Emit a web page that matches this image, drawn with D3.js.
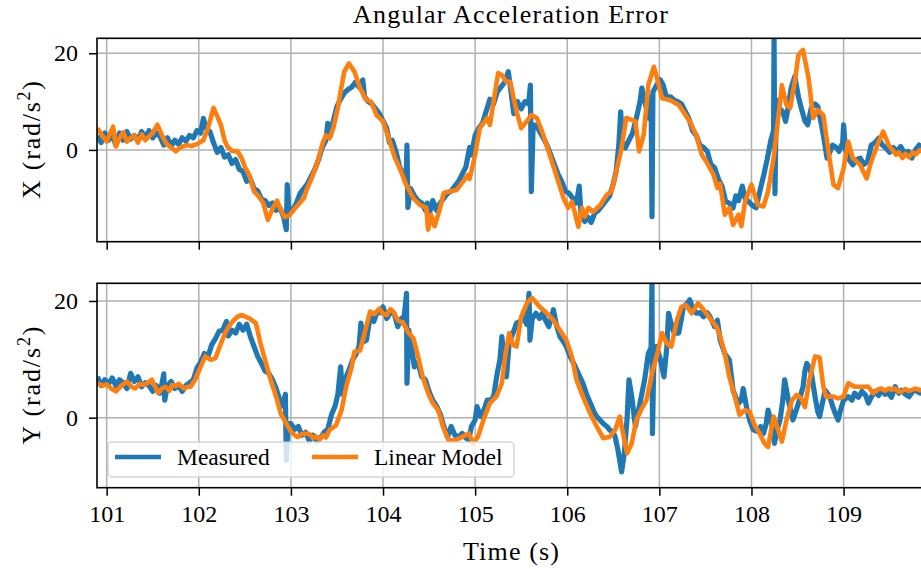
<!DOCTYPE html>
<html>
<head>
<meta charset="utf-8">
<script src="https://cdn.jsdelivr.net/npm/d3@7/dist/d3.min.js"></script>
<style>
  body { margin: 0; background: #fff; }
  text { font-family: "Liberation Serif", "Times New Roman", serif; fill: #000; }
</style>
</head>
<body>
<svg></svg>
<script>
var svg = d3.select("svg");

var svgWidth = 921,
    svgHeight = 569;

svg.attr("width", svgWidth).attr("height", svgHeight);

// ---- data ----
var xTickValues = [101, 102, 103, 104, 105, 106, 107, 108, 109];
var yTickValues = [0, 20];

// X axis (top panel), measured
var xMeasTime = [100.90,100.94,100.98,101.02,101.06,101.10,101.14,101.18,101.22,101.26,101.30,101.34,101.38,101.42,101.46,101.50,101.54,101.58,101.62,101.66,101.70,101.74,101.78,101.82,101.86,101.90,101.94,101.98,102.02,102.05,102.08,102.12,102.16,102.20,102.24,102.28,102.32,102.36,102.40,102.44,102.48,102.52,102.56,102.60,102.64,102.68,102.72,102.76,102.80,102.84,102.88,102.92,102.95,102.96,102.98,103.02,103.06,103.10,103.14,103.18,103.22,103.26,103.30,103.34,103.38,103.40,103.43,103.46,103.50,103.54,103.58,103.62,103.66,103.70,103.74,103.78,103.80,103.84,103.88,103.92,103.96,104.00,104.04,104.07,104.10,104.14,104.18,104.22,104.25,104.26,104.27,104.30,104.34,104.38,104.42,104.46,104.48,104.50,104.54,104.58,104.62,104.66,104.70,104.74,104.78,104.82,104.86,104.90,104.94,104.96,105.00,105.04,105.08,105.12,105.16,105.20,105.24,105.28,105.32,105.36,105.38,105.42,105.46,105.50,105.54,105.58,105.60,105.61,105.63,105.67,105.70,105.74,105.78,105.82,105.86,105.90,105.94,105.98,106.02,106.06,106.10,106.13,106.15,106.19,106.23,106.26,106.30,106.34,106.38,106.42,106.46,106.50,106.53,106.56,106.58,106.60,106.63,106.67,106.71,106.75,106.79,106.81,106.84,106.88,106.91,106.92,106.93,106.97,107.01,107.04,107.08,107.12,107.16,107.20,107.24,107.28,107.32,107.36,107.40,107.44,107.48,107.52,107.56,107.60,107.64,107.68,107.72,107.76,107.80,107.83,107.86,107.90,107.93,107.97,108.01,108.05,108.09,108.13,108.17,108.21,108.24,108.245,108.255,108.27,108.31,108.34,108.37,108.40,108.43,108.47,108.51,108.54,108.58,108.61,108.65,108.69,108.72,108.76,108.79,108.82,108.85,108.88,108.92,108.95,108.99,109.00,109.02,109.06,109.10,109.14,109.18,109.22,109.26,109.30,109.34,109.38,109.42,109.46,109.50,109.54,109.58,109.62,109.66,109.70,109.74,109.78,109.82,109.86];
var xMeasured = [3.0,1.5,3.5,2.0,3.2,1.0,3.5,2.0,3.8,2.2,3.0,2.0,3.8,2.5,4.0,2.5,3.5,2.8,1.0,2.5,0.8,2.0,1.2,2.5,1.8,3.0,2.5,4.0,3.5,6.5,4.5,3.8,1.5,-0.5,0.5,-1.5,-1.0,-2.8,-2.0,-4.0,-4.5,-6.5,-6.0,-8.0,-8.5,-10.2,-10.5,-11.5,-11.0,-12.5,-12.0,-13.8,-16.5,-7.2,-13.0,-12.5,-11.0,-9.0,-8.0,-7.0,-5.5,-4.0,-2.0,0.5,2.0,5.5,3.0,6.0,9.0,10.5,11.8,12.5,13.0,14.0,13.0,14.5,11.0,10.0,9.5,8.5,7.5,6.0,4.5,1.5,2.0,-0.3,-3.5,-5.0,-6.5,1.0,-11.9,-8.0,-9.5,-10.5,-11.0,-12.5,-11.0,-13.5,-10.5,-12.5,-11.0,-10.0,-9.0,-8.5,-7.5,-6.5,-5.0,-3.5,0.5,-1.0,3.0,4.5,5.5,8.0,10.5,9.5,12.0,13.0,14.0,16.2,13.4,7.5,10.0,8.5,10.0,9.5,13.4,-8.6,5.2,5.0,3.8,2.5,1.0,-1.0,-3.0,-5.0,-6.5,-8.5,-9.0,-10.0,-11.0,-7.5,-13.4,-14.8,-14.0,-15.0,-13.0,-12.5,-11.5,-10.5,-9.5,-7.0,-4.5,1.0,7.9,1.5,0.4,2.0,3.5,6.6,10.0,12.8,10.3,6.6,11.0,-13.8,12.0,13.4,14.5,13.5,10.7,11.0,10.3,10.0,9.5,8.0,6.5,4.0,3.0,1.0,0.5,-0.3,-3.0,-3.7,-6.0,-7.5,-10.7,-11.0,-12.0,-9.5,-10.5,-7.5,-10.0,-10.7,-11.5,-12.0,-8.6,-5.5,-2.0,2.0,4.0,24.0,-9.0,10.3,8.5,7.9,5.9,9.0,12.8,15.2,11.0,8.7,6.0,5.2,8.7,9.5,9.0,5.2,2.0,-1.7,-0.5,1.0,0.5,-0.3,1.5,5.2,0.0,-2.0,-3.1,-2.0,-1.7,-3.0,-2.4,1.0,1.5,2.4,1.0,0.4,-0.5,0.5,-0.3,0.7,-0.7,-0.3,-1.7,0.0,1.0,0.5];

// X axis (top panel), linear model
var xModelTime = [100.90,100.95,101.00,101.04,101.07,101.10,101.14,101.18,101.22,101.26,101.30,101.34,101.38,101.42,101.46,101.50,101.55,101.60,101.65,101.70,101.75,101.80,101.87,101.92,101.98,102.05,102.10,102.16,102.20,102.24,102.28,102.31,102.36,102.42,102.46,102.50,102.55,102.60,102.65,102.70,102.75,102.80,102.85,102.88,102.93,102.98,103.04,103.10,103.14,103.17,103.24,103.29,103.35,103.38,103.42,103.46,103.51,103.54,103.58,103.63,103.69,103.75,103.82,103.87,103.93,104.00,104.05,104.13,104.18,104.25,104.33,104.40,104.47,104.49,104.52,104.56,104.62,104.66,104.72,104.80,104.87,104.92,104.94,105.00,105.05,105.13,105.16,105.20,105.25,105.29,105.34,105.38,105.45,105.50,105.56,105.61,105.67,105.74,105.81,105.88,105.96,106.01,106.05,106.08,106.12,106.16,106.19,106.23,106.28,106.36,106.43,106.48,106.54,106.59,106.64,106.70,106.74,106.78,106.83,106.88,106.94,106.97,107.03,107.12,107.21,107.26,107.33,107.40,107.46,107.51,107.59,107.63,107.66,107.71,107.76,107.80,107.86,107.89,107.93,108.00,108.07,108.13,108.18,108.24,108.29,108.33,108.38,108.42,108.47,108.51,108.56,108.62,108.67,108.72,108.78,108.83,108.89,108.94,109.00,109.05,109.10,109.18,109.25,109.30,109.38,109.43,109.49,109.53,109.57,109.60,109.64,109.67,109.71,109.75,109.78,109.83,109.86];
var xModel = [4.5,3.0,1.7,3.5,4.8,0.7,2.5,3.6,1.7,2.5,3.0,1.5,3.2,2.0,2.8,3.5,5.2,3.0,1.2,0.5,-0.3,0.5,1.0,0.8,1.2,2.0,4.5,8.7,7.0,5.2,2.0,0.7,-0.2,-0.3,-1.5,-3.5,-5.2,-8.6,-9.6,-11.0,-14.5,-12.2,-10.5,-12.0,-13.9,-13.6,-12.2,-10.9,-10.0,-8.3,-5.2,-2.4,1.7,3.0,2.4,4.5,8.7,12.1,16.2,17.9,16.2,12.8,10.3,10.0,7.2,5.9,3.1,-1.7,-3.7,-7.2,-10.0,-11.4,-12.0,-16.5,-13.4,-15.8,-12.0,-8.9,-8.6,-8.3,-6.5,-5.2,-6.0,-1.0,4.5,6.6,5.2,10.0,15.9,15.5,14.1,14.1,7.9,4.5,5.9,7.2,6.6,3.1,-1.0,-5.2,-10.0,-12.0,-10.7,-12.8,-15.9,-12.0,-13.8,-12.0,-12.8,-11.4,-9.3,-8.6,-3.8,0.4,6.6,6.2,5.9,-0.3,3.1,13.4,17.2,15.2,10.7,10.3,9.3,7.9,5.9,3.1,-1.0,-2.4,-5.2,-7.9,-7.0,-13.4,-12.0,-15.5,-13.4,-15.8,-10.7,-7.2,-11.4,-11.7,-8.6,-1.7,6.6,13.4,9.3,8.7,14.1,19.7,20.7,14.8,6.6,8.3,7.2,0.4,-7.2,-7.9,-3.8,1.7,-1.7,-3.1,-5.9,-2.4,1.7,3.8,1.0,0.0,-1.0,-0.5,-1.7,-0.8,-1.5,-0.5,-1.0,0.0,-0.3];

// Y axis (bottom panel), measured
var yMeasTime = [100.90,100.94,100.98,101.02,101.06,101.10,101.14,101.18,101.22,101.26,101.30,101.34,101.38,101.42,101.46,101.50,101.54,101.58,101.62,101.63,101.66,101.70,101.74,101.78,101.82,101.86,101.90,101.94,101.98,102.02,102.06,102.10,102.14,102.18,102.22,102.26,102.30,102.32,102.36,102.40,102.44,102.48,102.52,102.56,102.60,102.64,102.68,102.72,102.76,102.80,102.84,102.88,102.91,102.94,102.95,102.97,103.00,103.04,103.08,103.12,103.16,103.20,103.24,103.28,103.32,103.36,103.40,103.44,103.48,103.51,103.54,103.56,103.60,103.64,103.67,103.71,103.74,103.76,103.79,103.82,103.86,103.90,103.93,103.97,104.00,104.04,104.08,104.12,104.16,104.20,104.23,104.255,104.26,104.28,104.31,104.34,104.38,104.42,104.46,104.50,104.54,104.58,104.62,104.66,104.70,104.74,104.78,104.82,104.86,104.90,104.93,104.96,105.00,105.02,105.06,105.10,105.13,105.17,105.20,105.24,105.27,105.29,105.31,105.34,105.37,105.40,105.45,105.49,105.52,105.56,105.585,105.595,105.62,105.66,105.70,105.73,105.77,105.80,105.85,105.88,105.92,105.96,105.99,106.03,106.07,106.12,106.17,106.21,106.25,106.29,106.32,106.36,106.39,106.43,106.46,106.50,106.52,106.55,106.59,106.62,106.65,106.67,106.70,106.74,106.79,106.84,106.88,106.91,106.92,106.925,106.94,106.97,107.01,107.05,107.08,107.10,107.13,107.16,107.21,107.24,107.26,107.30,107.33,107.37,107.40,107.44,107.48,107.52,107.55,107.60,107.63,107.66,107.71,107.76,107.80,107.83,107.86,107.89,107.91,107.95,107.98,108.02,108.07,108.10,108.13,108.16,108.18,108.22,108.25,108.28,108.31,108.34,108.36,108.40,108.45,108.48,108.51,108.56,108.58,108.60,108.63,108.65,108.69,108.72,108.74,108.77,108.80,108.85,108.88,108.91,108.94,108.97,109.00,109.05,109.09,109.12,109.16,109.20,109.24,109.27,109.30,109.34,109.38,109.41,109.45,109.49,109.52,109.56,109.60,109.63,109.67,109.71,109.75,109.78,109.83,109.86];
var yMeasured = [7.0,5.5,6.5,5.8,6.8,5.5,6.5,6.0,5.0,7.6,6.2,7.0,5.3,6.0,5.5,4.5,5.5,4.2,7.5,3.0,5.5,6.2,5.0,5.5,4.5,5.5,6.0,6.5,8.5,9.5,11.0,10.5,12.5,13.5,14.8,15.0,16.5,14.0,15.0,14.5,16.0,15.0,16.0,13.9,12.2,10.5,9.3,8.0,7.6,6.5,5.0,3.0,2.0,4.0,-7.3,-1.0,-1.0,-2.0,-1.5,-3.0,-2.5,-4.0,-3.0,-4.0,-3.5,-2.5,-2.0,0.5,2.0,4.0,8.7,4.0,7.0,8.5,9.9,11.0,12.2,16.2,13.0,13.3,17.3,16.5,17.9,18.0,19.0,17.0,18.0,17.9,15.6,17.0,17.3,21.3,5.9,15.0,12.2,8.7,9.5,7.0,6.5,4.5,3.0,2.0,0.7,-1.5,-3.3,-1.5,-3.0,-3.3,-2.7,-3.5,-3.8,-1.5,-0.4,1.9,0.2,1.5,3.0,3.0,3.6,7.6,10.0,13.9,10.0,7.0,13.0,14.0,16.2,16.5,17.3,16.0,21.3,13.3,17.0,17.9,17.0,17.9,16.5,15.6,18.5,16.0,13.9,13.0,12.2,10.5,9.3,7.6,5.9,4.0,2.5,1.0,0.2,-0.5,-1.0,-1.5,-2.1,-2.5,-3.3,-5.5,-9.3,-6.0,0.0,6.5,3.6,-1.5,2.5,6.5,11.0,12.0,24.0,-2.7,10.0,12.2,10.0,7.0,12.0,17.9,16.0,14.5,14.5,17.0,19.0,19.5,20.2,18.5,17.9,18.0,17.3,18.0,17.3,15.6,16.7,13.3,11.0,9.9,4.7,3.5,2.5,3.0,5.0,1.5,-0.4,-2.1,-2.4,-1.5,-2.7,-1.0,1.3,-1.0,-4.4,-2.0,-0.4,3.0,6.5,3.0,-0.4,1.0,2.5,5.3,8.0,9.3,8.5,7.6,3.6,1.0,0.2,2.5,4.7,3.6,2.0,0.7,-0.4,1.5,3.0,3.6,3.0,4.2,3.5,4.5,3.8,2.5,3.5,4.5,3.8,4.7,4.0,4.2,3.5,5.3,4.2,4.7,4.0,3.6,4.5,4.7,4.2,4.4];

// Y axis (bottom panel), linear model
var yModelTime = [100.90,100.96,101.00,101.05,101.10,101.16,101.22,101.27,101.31,101.36,101.40,101.45,101.49,101.56,101.60,101.64,101.68,101.71,101.75,101.78,101.84,101.88,101.91,101.96,102.02,102.07,102.13,102.18,102.24,102.29,102.35,102.42,102.47,102.55,102.62,102.67,102.73,102.78,102.84,102.89,102.95,103.00,103.07,103.12,103.15,103.20,103.24,103.27,103.31,103.35,103.38,103.42,103.49,103.55,103.60,103.66,103.69,103.75,103.80,103.86,103.91,103.96,104.00,104.04,104.08,104.11,104.16,104.22,104.27,104.33,104.38,104.43,104.49,104.54,104.60,104.65,104.71,104.78,104.86,104.93,104.98,105.03,105.09,105.16,105.23,105.29,105.33,105.37,105.41,105.45,105.50,105.57,105.62,105.70,105.78,105.85,105.92,105.99,106.05,106.10,106.17,106.25,106.32,106.39,106.46,106.52,106.57,106.61,106.65,106.70,106.75,106.81,106.86,106.92,106.97,107.03,107.08,107.13,107.19,107.24,107.29,107.35,107.42,107.48,107.55,107.62,107.66,107.71,107.76,107.82,107.87,107.93,107.98,108.04,108.09,108.14,108.18,108.24,108.29,108.33,108.38,108.44,108.49,108.54,108.58,108.63,108.69,108.74,108.78,108.81,108.89,108.94,109.00,109.05,109.12,109.20,109.27,109.32,109.37,109.41,109.45,109.49,109.53,109.56,109.60,109.63,109.67,109.71,109.75,109.78,109.83,109.86];
var yModel = [5.9,5.5,5.7,5.0,4.5,5.5,6.2,5.3,5.0,5.8,5.6,6.0,6.5,4.2,5.0,5.3,4.6,5.6,5.4,5.8,5.0,5.3,5.3,6.5,8.7,10.5,9.9,10.2,12.7,14.7,16.2,17.3,17.6,17.0,16.2,12.7,9.3,6.5,3.6,0.7,-1.0,-2.4,-3.3,-2.8,-2.7,-2.8,-3.5,-3.2,-3.7,-3.0,-3.4,-2.1,-1.3,1.3,5.3,8.7,11.3,11.5,14.5,18.2,17.8,18.7,17.8,17.6,18.6,18.2,16.7,16.2,14.7,13.6,10.5,7.0,4.2,2.5,1.3,-1.5,-3.8,-3.9,-3.3,-2.7,-4.4,-3.3,-0.4,2.5,3.6,5.9,11.0,14.5,12.5,12.2,17.3,19.9,20.5,19.0,17.9,16.7,15.0,13.3,10.5,6.5,3.6,0.7,-1.5,-3.5,-3.3,-2.1,0.2,-3.0,-6.1,-4.4,-0.4,1.6,3.0,7.6,10.5,14.5,12.7,12.2,16.7,19.0,19.3,17.9,19.6,18.5,17.0,15.6,13.9,11.0,7.0,3.6,0.5,1.3,1.0,-1.5,-2.7,-4.4,-5.0,0.2,-2.1,-4.1,-0.4,3.0,3.9,3.3,1.8,6.5,10.5,10.3,5.3,3.6,3.6,3.3,3.6,5.9,5.3,5.3,5.3,4.2,4.8,5.0,4.6,5.0,4.8,5.0,4.4,4.5,4.9,4.6,4.8,5.0,4.7,4.8];

var seriesNames = ["Measured", "Linear Model"];
var seriesColors = ["#1f77b4", "#ff7f0e"];

// ---- layout ----
var left = 97, right = 923;
var panels = [
  {top: 38.3, bottom: 241.7, domain: [-19.0, 23.1], label: "X", showX: false,
   meas: [xMeasTime, xMeasured], model: [xModelTime, xModel]},
  {top: 283.3, bottom: 487.7, domain: [-12.0, 23.03], label: "Y", showX: true,
   meas: [yMeasTime, yMeasured], model: [yModelTime, yModel]}
];

// setup x
var xScale = d3.scaleLinear().domain([100.895, 109.862]).range([left, right]);

// title
svg.append("text")
  .attr("x", 510.5).attr("y", 23)
  .attr("text-anchor", "middle")
  .attr("textLength", 315).attr("lengthAdjust", "spacing")
  .style("font-size", "26px")
  .text("Angular Acceleration Error");

panels.forEach(function(p, k) {
  var yScale = d3.scaleLinear().domain(p.domain).range([p.bottom, p.top]);
  var g = svg.append("g");

  g.append("clipPath").attr("id", "clip" + k)
    .append("rect")
    .attr("x", left).attr("y", p.top)
    .attr("width", right - left).attr("height", p.bottom - p.top);

  // grid
  g.selectAll(".vgrid").data(xTickValues).enter()
    .append("line")
    .attr("x1", function(d) { return xScale(d); })
    .attr("x2", function(d) { return xScale(d); })
    .attr("y1", p.top).attr("y2", p.bottom)
    .attr("stroke", "#b0b0b0").attr("stroke-width", 1.5);
  g.selectAll(".hgrid").data(yTickValues).enter()
    .append("line")
    .attr("x1", left).attr("x2", right)
    .attr("y1", function(d) { return yScale(d); })
    .attr("y2", function(d) { return yScale(d); })
    .attr("stroke", "#b0b0b0").attr("stroke-width", 1.5);

  // lines
  var series = [p.meas, p.model];
  series.forEach(function(s, i) {
    var pts = s[0].map(function(t, j) { return [t, s[1][j]]; });
    var line = d3.line()
      .x(function(d) { return xScale(d[0]); })
      .y(function(d) { return yScale(d[1]); });
    g.append("path")
      .datum(pts)
      .attr("clip-path", "url(#clip" + k + ")")
      .attr("d", line)
      .attr("fill", "none")
      .attr("stroke", seriesColors[i])
      .attr("stroke-width", i == 0 ? 5.2 : 4.6)
      .attr("stroke-linejoin", "round");
  });

  // frame
  g.append("rect")
    .attr("x", left).attr("y", p.top)
    .attr("width", right - left).attr("height", p.bottom - p.top)
    .attr("fill", "none").attr("stroke", "#000").attr("stroke-width", 1.6);

  // y axis
  var yAxis = d3.axisLeft(yScale).tickValues(yTickValues).tickSize(8).tickPadding(11);
  var ya = g.append("g").attr("transform", "translate(" + left + ",0)").call(yAxis);
  ya.select(".domain").remove();
  ya.selectAll(".tick line").attr("stroke-width", 1.5);
  ya.selectAll("text").style("font-size", "24px").style("font-family", "Liberation Serif");

  // x axis
  var xAxis = d3.axisBottom(xScale).tickValues(xTickValues).tickSize(8).tickPadding(9);
  if (!p.showX) xAxis.tickFormat("");
  var xa = g.append("g").attr("transform", "translate(0," + p.bottom + ")").call(xAxis);
  xa.select(".domain").remove();
  xa.selectAll(".tick line").attr("stroke-width", 1.5);
  xa.selectAll("text").style("font-size", "24px").style("font-family", "Liberation Serif");

  // y label
  var lab = g.append("text")
    .attr("transform", "translate(40," + ((p.top + p.bottom) / 2) + ") rotate(-90)")
    .attr("text-anchor", "middle")
    .attr("textLength", 118).attr("lengthAdjust", "spacing")
    .style("font-size", "26px");
  lab.append("tspan").text(p.label + " (rad/s");
  lab.append("tspan").attr("dy", -10).style("font-size", "18px").text("2");
  lab.append("tspan").attr("dy", 10).text(")");
});

// x label
svg.append("text")
  .attr("x", 511).attr("y", 560)
  .attr("text-anchor", "middle")
  .attr("textLength", 96).attr("lengthAdjust", "spacing")
  .style("font-size", "26px")
  .text("Time (s)");

// legend
var legend = svg.append("g");
legend.append("rect")
  .attr("x", 108).attr("y", 442)
  .attr("width", 406).attr("height", 35)
  .attr("rx", 4)
  .attr("fill", "#fff").attr("fill-opacity", 0.8)
  .attr("stroke", "#cccccc").attr("stroke-opacity", 0.8).attr("stroke-width", 1.5);
var legendX = [115, 312];
seriesNames.forEach(function(name, i) {
  legend.append("line")
    .attr("x1", legendX[i]).attr("x2", legendX[i] + 46)
    .attr("y1", 457).attr("y2", 457)
    .attr("stroke", seriesColors[i]).attr("stroke-width", 4.6);
  legend.append("text")
    .attr("x", legendX[i] + 62).attr("y", 465)
    .style("font-size", "23.5px")
    .text(name);
});
</script>
</body>
</html>
